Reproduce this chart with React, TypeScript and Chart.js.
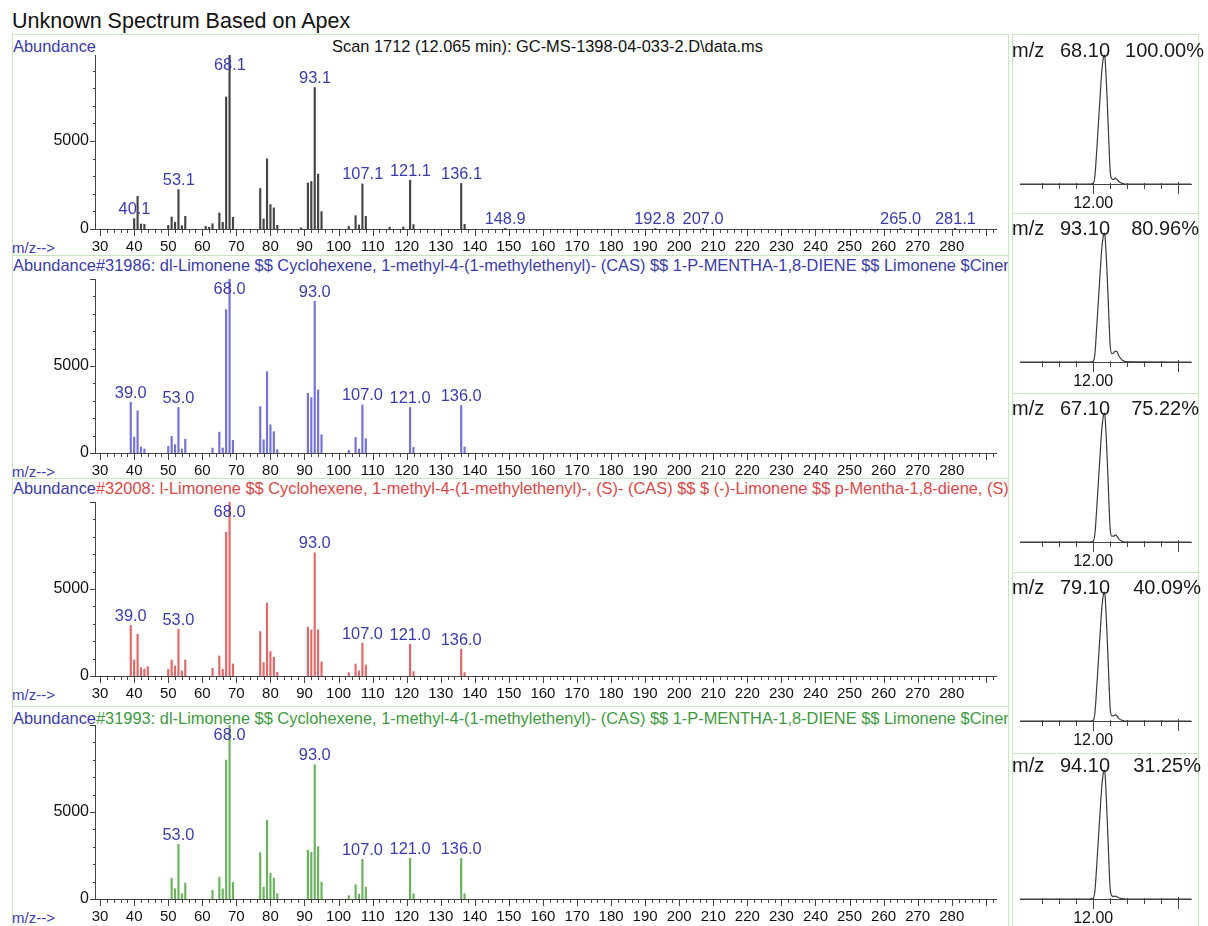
import React, { useEffect, useRef } from 'react';
import { Chart, registerables } from 'chart.js';
Chart.register(...registerables);

const FONT = '"Liberation Sans", Arial, Helvetica, sans-serif';
const BLUE = '#3b3bb0';
const AXIS = '#444444';
const FRAME = '#c9e7bf';

// ---------- axis labels ----------
const MZ_TICK_LABELS = [30, 40, 50, 60, 70, 80, 90, 100, 110, 120, 130, 140, 150, 160, 170, 180, 190, 200, 210, 220, 230, 240, 250, 260, 270, 280];
const ABUNDANCE_TICKS = [0, 5000];
const RT_TICK_LABELS = [12.0];

// ---------- unknown spectrum (scan 1712) ----------
const UNKNOWN_MZ = [40, 41, 42, 43, 50, 51, 52, 53, 54, 55, 61, 62, 63, 65, 66, 67, 68, 69, 77, 78, 79, 80, 81, 82, 89, 91, 92, 93, 94, 95, 103, 105, 106, 107, 108, 115, 119, 121, 122, 136, 137, 149, 193, 207, 265, 281];
const UNKNOWN_AB = [590, 1860, 285, 270, 210, 684, 380, 2240, 190, 722, 150, 95, 300, 912, 380, 7505, 9890, 665, 2300, 570, 3990, 1390, 1200, 210, 60, 2620, 2700, 8040, 3120, 990, 150, 760, 230, 2565, 720, 100, 110, 2775, 250, 2585, 265, 40, 30, 40, 30, 35];
const UNKNOWN_PEAKS = [40.1, 53.1, 68.1, 93.1, 107.1, 121.1, 136.1, 148.9, 192.8, 207.0, 265.0, 281.1];

// ---------- library hit #31986 ----------
const LIB31986_MZ = [39, 40, 41, 42, 43, 50, 51, 52, 53, 54, 55, 63, 65, 66, 67, 68, 69, 77, 78, 79, 80, 81, 82, 91, 92, 93, 94, 95, 103, 105, 106, 107, 108, 121, 122, 136, 137];
const LIB31986_AB = [2920, 915, 2423, 343, 230, 380, 954, 477, 2614, 230, 800, 286, 1200, 286, 8243, 9999, 725, 2671, 763, 4675, 1622, 1221, 190, 3434, 3186, 8720, 3625, 1050, 150, 897, 230, 2767, 820, 2614, 325, 2728, 343];
const LIB31986_PEAKS = [39.0, 53.0, 68.0, 93.0, 107.0, 121.0, 136.0];

// ---------- library hit #32008 ----------
const LIB32008_MZ = [39, 40, 41, 42, 43, 44, 50, 51, 52, 53, 54, 55, 63, 65, 66, 67, 68, 69, 77, 78, 79, 80, 81, 82, 91, 92, 93, 94, 95, 103, 105, 106, 107, 108, 121, 122, 136, 137];
const LIB32008_AB = [2904, 923, 2404, 480, 404, 540, 385, 923, 577, 2692, 288, 923, 442, 1154, 385, 8269, 9999, 692, 2558, 769, 4192, 1404, 1077, 212, 2808, 2654, 7077, 2654, 808, 192, 692, 288, 1885, 635, 1827, 250, 1538, 192];
const LIB32008_PEAKS = [39.0, 53.0, 68.0, 93.0, 107.0, 121.0, 136.0];

// ---------- library hit #31993 ----------
const LIB31993_MZ = [51, 52, 53, 54, 55, 63, 65, 66, 67, 68, 69, 77, 78, 79, 80, 81, 82, 91, 92, 93, 94, 95, 103, 105, 106, 107, 108, 121, 122, 136, 137];
const LIB31993_AB = [1198, 589, 3137, 304, 912, 494, 1255, 589, 7984, 9999, 950, 2661, 684, 4524, 1483, 1198, 304, 2813, 2680, 7718, 3004, 970, 190, 817, 285, 2281, 684, 2338, 304, 2338, 304];
const LIB31993_PEAKS = [53.0, 68.0, 93.0, 107.0, 121.0, 136.0];

// ---------- extracted ion chromatograms ----------
const EIC_TIME = [11.57, 11.98, 12.0, 12.01, 12.02, 12.03, 12.04, 12.05, 12.06, 12.065, 12.07, 12.08, 12.09, 12.1, 12.11, 12.12, 12.13, 12.14, 12.15, 12.17, 12.19, 12.575];
const EIC_68 = [0, 0, 0.5, 6, 24, 45, 66, 86, 98, 100, 97, 72, 40, 10, 4, 3.5, 4.5, 3.5, 2, 0.5, 0, 0];
const EIC_93 = [0, 0, 0.5, 6, 25, 46, 67, 87, 98, 100, 97, 74, 43, 13, 6.5, 7, 8.5, 8, 5, 1.5, 0.3, 0];
const EIC_67 = [0, 0, 0.5, 6, 24, 45, 66, 86, 98, 100, 97, 72, 40, 10, 4.5, 4.5, 5.5, 4.5, 2.5, 0.5, 0, 0];
const EIC_79 = [0, 0, 0.5, 6, 24, 45, 66, 86, 98, 100, 97, 72, 40, 10, 4, 4, 4.8, 4, 2, 0.5, 0, 0];
const EIC_94 = [0, 0, 0.5, 6, 24, 45, 66, 86, 98, 100, 97, 70, 37, 8, 2.5, 2, 2.2, 1.8, 1, 0.3, 0, 0];
const EIC_MZ_LABELS = ['68.10', '93.10', '67.10', '79.10', '94.10'];
const EIC_PERCENT_LABELS = ['100.00%', '80.96%', '75.22%', '40.09%', '31.25%'];

// ---------- layout constants ----------
const PLOT_L = 95;
const PLOT_R = 996;
const PLOT_H = 174;
const Y_AXIS_W = 85;
const PAD_R = 6;
const PAD_T = 20;
const X_AXIS_H = 26;

type SpecProps = { mz: number[]; ab: number[]; peaks: number[]; color: string; ymax: number; baseline: number };

function SpectrumChart({ mz, ab, peaks, color, ymax, baseline }: SpecProps) {
  const ref = useRef<HTMLCanvasElement>(null);
  useEffect(() => {
    const decor = {
      id: 'specDecor',
      afterDraw(chart: any) {
        const { ctx, chartArea: a } = chart;
        const x = chart.scales.x;
        const y = chart.scales.y;
        ctx.save();
        ctx.strokeStyle = AXIS;
        ctx.lineWidth = 1;
        ctx.beginPath();
        for (let v = 30; v <= 292; v += 2) {
          const px = Math.round(x.getPixelForValue(v)) + 0.5;
          const len = v % 10 === 0 ? 7 : 4;
          ctx.moveTo(px, a.bottom);
          ctx.lineTo(px, a.bottom + len);
        }
        for (let v = 0; v <= ymax; v += 1000) {
          const py = Math.round(y.getPixelForValue(v)) + 0.5;
          const len = v % 5000 === 0 ? 5 : 2;
          ctx.moveTo(a.left - len, py);
          ctx.lineTo(a.left, py);
        }
        ctx.stroke();
        ctx.fillStyle = BLUE;
        ctx.font = `16.4px ${FONT}`;
        ctx.textAlign = 'center';
        ctx.textBaseline = 'middle';
        for (const p of peaks) {
          const idx = mz.indexOf(Math.round(p));
          const h = idx >= 0 ? ab[idx] : 0;
          let py = y.getPixelForValue(h) - 9;
          py = Math.max(py, a.top + 10);
          ctx.fillText(p.toFixed(1), x.getPixelForValue(p), py);
        }
        ctx.restore();
      },
    };
    const chart = new Chart(ref.current as HTMLCanvasElement, {
      type: 'bar',
      data: {
        datasets: [
          {
            data: mz.map((m, i) => ({ x: m, y: ab[i] })),
            backgroundColor: color,
            borderWidth: 0,
            barThickness: 1.5,
          } as any,
        ],
      },
      options: {
        animation: false,
        responsive: false,
        maintainAspectRatio: false,
        events: [],
        layout: { padding: { left: 0, right: PAD_R, top: PAD_T, bottom: 0 } },
        plugins: { legend: { display: false }, tooltip: { enabled: false } },
        scales: {
          x: {
            type: 'linear',
            min: 28.5,
            max: 293,
            offset: false,
            grid: { display: false, drawTicks: false },
            border: { display: true, color: AXIS, width: 1 },
            afterBuildTicks: (s: any) => {
              s.ticks = MZ_TICK_LABELS.map((v) => ({ value: v }));
            },
            afterFit: (s: any) => {
              s.height = X_AXIS_H;
            },
            ticks: {
              autoSkip: false,
              maxRotation: 0,
              minRotation: 0,
              padding: 9,
              color: '#111',
              font: { family: FONT, size: 15 },
              callback: (v: any) => String(v),
            },
          },
          y: {
            type: 'linear',
            min: 0,
            max: ymax,
            grid: { display: false, drawTicks: false },
            border: { display: true, color: AXIS, width: 1 },
            afterBuildTicks: (s: any) => {
              s.ticks = ABUNDANCE_TICKS.map((v) => ({ value: v }));
            },
            afterFit: (s: any) => {
              s.width = Y_AXIS_W;
            },
            ticks: {
              padding: 6,
              color: '#111',
              font: { family: FONT, size: 16 },
              callback: (v: any) => String(v),
            },
          },
        },
      } as any,
      plugins: [decor],
    });
    return () => chart.destroy();
  }, []);
  const left = PLOT_L - Y_AXIS_W;
  const top = baseline - PLOT_H - PAD_T;
  const width = PLOT_R + PAD_R - left;
  const height = PAD_T + PLOT_H + X_AXIS_H;
  return <canvas ref={ref} width={width} height={height} style={{ position: 'absolute', left, top, width, height }} />;
}

const RT_L = 1020;
const RT_R = 1191;
const RT_PAD_L = 6;
const RT_PAD_R = 5;
const RT_PAD_T = 8;
const RT_H = 129;
const RT_AXIS_H = 30;

function ChromChart({ values, apex }: { values: number[]; apex: number }) {
  const ref = useRef<HTMLCanvasElement>(null);
  useEffect(() => {
    const decor = {
      id: 'rtDecor',
      afterDraw(chart: any) {
        const { ctx, chartArea: a } = chart;
        const x = chart.scales.x;
        ctx.save();
        ctx.strokeStyle = AXIS;
        ctx.lineWidth = 1;
        ctx.beginPath();
        for (let k = 0; k <= 8; k++) {
          const t = 11.7 + k * 0.1;
          const px = Math.round(x.getPixelForValue(t)) + 0.5;
          const major = k === 3 || k === 8;
          ctx.moveTo(px, a.bottom - (major ? 2 : 1));
          ctx.lineTo(px, a.bottom + (major ? 10 : 5));
        }
        ctx.stroke();
        ctx.restore();
      },
    };
    const chart = new Chart(ref.current as HTMLCanvasElement, {
      type: 'line',
      data: {
        datasets: [
          {
            data: EIC_TIME.map((t, i) => ({ x: t, y: values[i] })),
            borderColor: '#3a3a3a',
            borderWidth: 1.2,
            pointRadius: 0,
            fill: false,
            cubicInterpolationMode: 'monotone',
            clip: 6,
          } as any,
        ],
      },
      options: {
        animation: false,
        responsive: false,
        maintainAspectRatio: false,
        events: [],
        layout: { padding: { left: RT_PAD_L, right: RT_PAD_R, top: RT_PAD_T, bottom: 0 } },
        plugins: { legend: { display: false }, tooltip: { enabled: false } },
        scales: {
          x: {
            type: 'linear',
            min: 11.57,
            max: 12.575,
            grid: { display: false, drawTicks: false },
            border: { display: true, color: AXIS, width: 1 },
            afterBuildTicks: (s: any) => {
              s.ticks = RT_TICK_LABELS.map((v) => ({ value: v }));
            },
            afterFit: (s: any) => {
              s.height = RT_AXIS_H;
            },
            ticks: {
              autoSkip: false,
              maxRotation: 0,
              padding: 10,
              color: '#111',
              font: { family: FONT, size: 16 },
              callback: (v: any) => Number(v).toFixed(2),
            },
          },
          y: { type: 'linear', display: false, min: 0, max: 100 },
        },
      } as any,
      plugins: [decor],
    });
    return () => chart.destroy();
  }, []);
  const left = RT_L - RT_PAD_L;
  const top = apex - RT_PAD_T;
  const width = RT_R + RT_PAD_R - left;
  const height = RT_PAD_T + RT_H + RT_AXIS_H;
  return <canvas ref={ref} width={width} height={height} style={{ position: 'absolute', left, top, width, height }} />;
}

const SPECTRA = [
  { mz: UNKNOWN_MZ, ab: UNKNOWN_AB, peaks: UNKNOWN_PEAKS, color: '#444444', ymax: 9890, baseline: 229 },
  { mz: LIB31986_MZ, ab: LIB31986_AB, peaks: LIB31986_PEAKS, color: '#7272d8', ymax: 10000, baseline: 453 },
  { mz: LIB32008_MZ, ab: LIB32008_AB, peaks: LIB32008_PEAKS, color: '#e26868', ymax: 10000, baseline: 676 },
  { mz: LIB31993_MZ, ab: LIB31993_AB, peaks: LIB31993_PEAKS, color: '#6cb25e', ymax: 10000, baseline: 899 },
];

const HEADERS = [
  { cy: 46, text: '', color: '#111' },
  { cy: 265, text: '#31986: dl-Limonene $$ Cyclohexene, 1-methyl-4-(1-methylethenyl)- (CAS) $$ 1-P-MENTHA-1,8-DIENE $$ Limonene $Cinene $$ Cajeputene', color: '#3b3bb0' },
  { cy: 488, text: '#32008: l-Limonene $$ Cyclohexene, 1-methyl-4-(1-methylethenyl)-, (S)- (CAS) $$ $ (-)-Limonene $$ p-Mentha-1,8-diene, (S)-(-)-', color: '#d94848' },
  { cy: 718, text: '#31993: dl-Limonene $$ Cyclohexene, 1-methyl-4-(1-methylethenyl)- (CAS) $$ 1-P-MENTHA-1,8-DIENE $$ Limonene $Cinene $$ Cajeputene', color: '#3f9a3f' },
];

const EICS = [
  { values: EIC_68, apex: 55 },
  { values: EIC_93, apex: 233 },
  { values: EIC_67, apex: 413 },
  { values: EIC_79, apex: 592 },
  { values: EIC_94, apex: 770 },
];
const EIC_PCT_END = [1204, 1199, 1199, 1201, 1201];

const LEFT_FRAMES = [34, 255, 478, 706];
const RIGHT_FRAMES = [34, 213, 393, 572, 753];

export default function App() {
  const abs = (s: React.CSSProperties): React.CSSProperties => ({ position: 'absolute', ...s });
  return (
    <div style={{ position: 'absolute', left: 0, top: 0, width: 1208, height: 926, background: '#fff', overflow: 'hidden', fontFamily: FONT }}>
      {LEFT_FRAMES.map((t, i) => (
        <div key={'lf' + i} style={abs({ left: 12, top: t, width: 997, height: 940 - t, borderTop: `1px solid ${FRAME}`, borderLeft: `1px solid ${FRAME}`, borderRight: `1px solid ${FRAME}`, boxSizing: 'border-box' })} />
      ))}
      {RIGHT_FRAMES.map((t, i) => (
        <div key={'rf' + i} style={abs({ left: 1012, top: t, width: 187, height: 940 - t, borderTop: `1px solid ${FRAME}`, borderLeft: `1px solid ${FRAME}`, borderRight: `1px solid ${FRAME}`, boxSizing: 'border-box' })} />
      ))}
      <div style={abs({ left: 12, top: 11, font: `21.5px/21.5px ${FONT}`, color: '#111', whiteSpace: 'nowrap' })}>Unknown Spectrum Based on Apex</div>
      {HEADERS.map((h, i) => (
        <div key={'h' + i} style={abs({ left: 13, top: h.cy - 8.2, width: 995, height: 19, overflow: 'hidden', whiteSpace: 'nowrap', font: `16.4px/16.4px ${FONT}` })}>
          <span style={{ color: BLUE }}>Abundance</span>
          {h.text ? <span style={{ position: 'absolute', left: 83, color: h.color }}>{h.text}</span> : null}
        </div>
      ))}
      <div style={abs({ left: 332, top: 46 - 8.2, font: `16.4px/16.4px ${FONT}`, color: '#111', whiteSpace: 'nowrap' })}>Scan 1712 (12.065 min): GC-MS-1398-04-033-2.D\data.ms</div>
      {SPECTRA.map((s, i) => (
        <div key={'mz' + i} style={abs({ left: 12, top: s.baseline + 18 - 7.5, font: `15px/15px ${FONT}`, color: BLUE, whiteSpace: 'nowrap' })}>m/z--&gt;</div>
      ))}
      {SPECTRA.map((s, i) => (
        <SpectrumChart key={'s' + i} {...s} />
      ))}
      {EICS.map((e, i) => (
        <ChromChart key={'e' + i} values={e.values} apex={e.apex} />
      ))}
      {EICS.map((e, i) => (
        <React.Fragment key={'el' + i}>
          <div style={abs({ left: 1012, top: e.apex - 5 - 10, font: `20px/20px ${FONT}`, color: '#1a1a1a', whiteSpace: 'nowrap' })}>m/z</div>
          <div style={abs({ left: 1060, top: e.apex - 5 - 10, font: `20px/20px ${FONT}`, color: '#1a1a1a', whiteSpace: 'nowrap' })}>{EIC_MZ_LABELS[i]}</div>
          <div style={abs({ right: 1208 - EIC_PCT_END[i], top: e.apex - 5 - 10, font: `20px/20px ${FONT}`, color: '#1a1a1a', whiteSpace: 'nowrap' })}>{EIC_PERCENT_LABELS[i]}</div>
        </React.Fragment>
      ))}
    </div>
  );
}
